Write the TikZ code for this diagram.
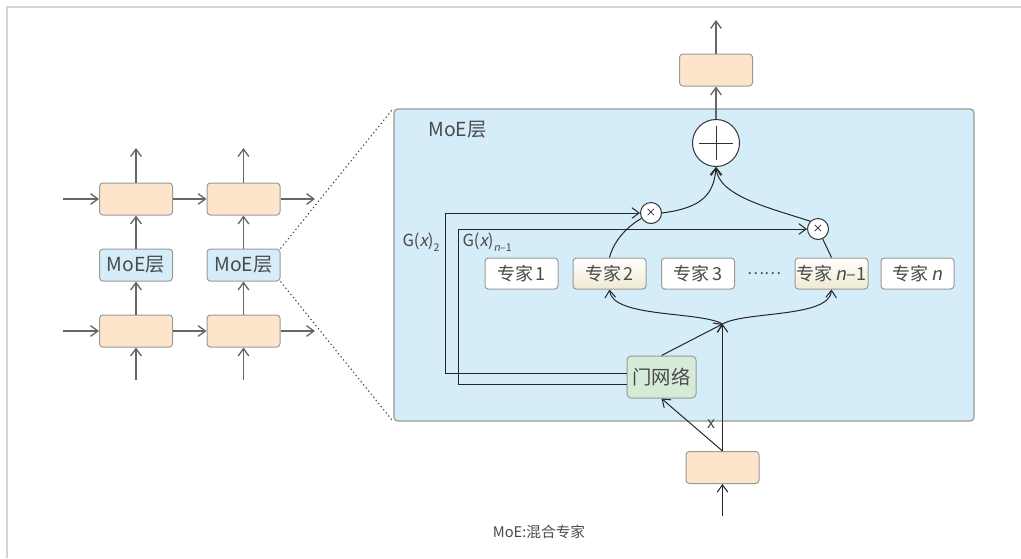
\documentclass[tikz,border=0pt]{standalone}
\usepackage{fontspec}
\setmainfont{Noto Sans CJK SC}[AutoFakeSlant=0.2]
\usetikzlibrary{arrows.meta}

\definecolor{boxorange}{HTML}{FDE5CB}
\definecolor{moeblue}{HTML}{D5ECF9}
\definecolor{gategreen}{HTML}{D6EAD8}
\definecolor{expbeige}{HTML}{F0E9D2}
\definecolor{edgegray}{HTML}{9A9A9A}
\definecolor{txtgray}{HTML}{4A4A4A}
\definecolor{framegray}{HTML}{D4D4D4}

\tikzset{every picture/.style={line width=0.75pt},
  barb/.tip={Straight Barb[length=5.5pt,width=8pt]},
  blk/.style={draw=edgegray, fill=boxorange, rounded corners=2.5pt, minimum width=54.75pt, minimum height=24pt, inner sep=0pt},
  moesmall/.style={blk, fill=moeblue, font=\fontsize{14.5}{16}\selectfont, text=txtgray},
  expert/.style={draw=edgegray, fill=white, rounded corners=2.5pt, minimum width=54.75pt, minimum height=23.25pt, inner sep=0pt, font=\fontsize{13.5}{15}\selectfont, text=txtgray},
  chosen/.style={expert, top color=white, bottom color=expbeige},
  mult/.style={circle, draw=black!80, fill=white, minimum size=15.75pt, inner sep=0pt, font=\fontsize{8}{8}\selectfont},
  sumnode/.style={circle, draw=black!80, fill=white, minimum size=35.25pt, inner sep=0pt},
  gatebox/.style={draw=edgegray, fill=gategreen, rounded corners=3pt, minimum width=51.75pt, minimum height=31.5pt, inner sep=0pt, font=\fontsize{14.5}{16}\selectfont, text=txtgray},
  lbl/.style={text=txtgray, inner sep=0pt},
  grayarrow/.style={draw=black!60, line width=1pt, -barb},
  darkarrow/.style={draw=black!85, line width=0.75pt, -barb},
  darkline/.style={draw=black!85, line width=0.75pt}
}

\begin{document}
\begin{tikzpicture}[x=0.75pt,y=0.75pt,yscale=-1,xscale=1]
	\useasboundingbox (0,0) rectangle (1021,558);

	%Frame
	\draw [framegray, line width=1.5]  (7,558) -- (7,6.5) -- (1021,6.5) ;

	%Stacked layers on the left
	\node (top1) [blk] at (136,199) {};
	\node (top2) [blk] at (243.5,199) {};
	\node (moe1) [moesmall] at (136,265) {MoE层};
	\node (moe2) [moesmall] at (243.5,265) {MoE层};
	\node (bot1) [blk] at (136,331) {};
	\node (bot2) [blk] at (243.5,331) {};

	\coordinate (inA) at (63,199);
	\coordinate (inB) at (63,331);
	\coordinate (outA) at (315,199);
	\coordinate (outB) at (315,331);
	\coordinate (upA) at (136,148);
	\coordinate (upB) at (243.5,148);
	\coordinate (srcA) at (136,380);
	\coordinate (srcB) at (243.5,380);

	\draw [grayarrow] (inA) -- (top1);
	\draw [grayarrow] (top1) -- (top2);
	\draw [grayarrow] (top2) -- (outA);
	\draw [grayarrow] (inB) -- (bot1);
	\draw [grayarrow] (bot1) -- (bot2);
	\draw [grayarrow] (bot2) -- (outB);
	\draw [grayarrow] (srcA) -- (bot1);
	\draw [grayarrow] (srcB) -- (bot2);
	\draw [grayarrow] (bot1) -- (moe1);
	\draw [grayarrow] (bot2) -- (moe2);
	\draw [grayarrow] (moe1) -- (top1);
	\draw [grayarrow] (moe2) -- (top2);
	\draw [grayarrow] (top1) -- (upA);
	\draw [grayarrow] (top2) -- (upB);

	%Expanded MoE layer
	\node (moebox) [draw=edgegray, fill=moeblue, line width=1, rounded corners=3pt, minimum width=435pt, minimum height=234pt, inner sep=0pt] at (684,265) {};
	\draw [black!75, dash pattern={on 1pt off 2pt}]  (moe2.north east) -- (moebox.north west) ;
	\draw [black!75, dash pattern={on 1pt off 2pt}]  (moe2.south east) -- (moebox.south west) ;

	% Text Node
	\node (title) [lbl, anchor=west, font=\fontsize{14.5}{16}\selectfont] at (428,130) {MoE层};

	\node (plus) [sumnode] at (716,143) {};
	\draw [black!80, line width=0.6]  ([xshift=-12.5pt]plus.center) -- ([xshift=12.5pt]plus.center) ;
	\draw [black!80, line width=0.6]  ([yshift=-12.5pt]plus.center) -- ([yshift=12.5pt]plus.center) ;

	\node (out) [blk] at (716,70) {};
	\coordinate (outend) at (716,20);
	\draw [grayarrow] (plus) -- (out);
	\draw [grayarrow] (out) -- (outend);

	\node (mult1) [mult] at (651,213) {×};
	\node (mult2) [mult] at (818,229) {×};

	%Experts
	\node (exp1) [expert] at (521.5,273.5) {专家\,1};
	\node (exp2) [chosen] at (609.5,273.5) {专家\,2};
	\node (exp3) [expert] at (698,273.5) {专家\,3};
	\node (dots) [lbl, font=\fontsize{12}{15}\selectfont] at (764,274) {……};
	\node (expn1) [chosen] at (831.5,273.5) {专家\,\textit{n}–1};
	\node (expn) [expert] at (917.5,273.5) {专家\,\textit{n}};

	\node (gate) [gatebox] at (661.5,377) {门网络};
	\node (input) [blk] at (722.5,467.5) {};
	\coordinate (inend) at (722.5,516);
	\coordinate (split) at (722.5,324);

	%Input and gate
	\draw [darkarrow] (inend) -- (input);
	\draw [darkarrow] (input.north) -- (split);
	\draw [darkarrow] (input.north) -- (gate.south);
	\draw [darkarrow] (gate.north) -- (split);
	\node (xlbl) [lbl, font=\fontsize{12}{14}\selectfont] at (711,424) {x};

	%Routing to chosen experts
	\draw [darkarrow] (split) .. controls (700,311) and (612,318) .. (exp2.south) ;
	\draw [darkarrow] (split) .. controls (745,311) and (830,318) .. (expn1.south) ;

	%Gate weights
	\draw [darkarrow] ([yshift=-3pt]gate.west) -| (445,213) -- (mult1) ;
	\draw [darkarrow] ([yshift=5.25pt]gate.west) -| (458,229) -- (mult2) ;
	\node (g2) [lbl, anchor=west, font=\fontsize{12.5}{14}\selectfont] at (402,242) {G(\textit{x})\raisebox{-0.6ex}{\fontsize{8}{8}\selectfont 2}};
	\node (gn) [lbl, anchor=west, font=\fontsize{12.5}{14}\selectfont] at (462,242) {G(\textit{x})\raisebox{-0.6ex}{\fontsize{8}{8}\selectfont\textit{n}–1}};

	%Weighted outputs
	\draw [darkline] (exp2.north) .. controls (614,240) and (628,226) .. (mult1) ;
	\draw [darkline] (expn1.north) -- (mult2) ;
	\draw [darkarrow] (mult1.east) .. controls (700,208) and (714,196) .. (plus.south) ;
	\draw [darkarrow] (mult2.north west) .. controls (770,208) and (718,196) .. (plus.south) ;

	% Text Node
	\node (caption) [lbl, font=\fontsize{11}{13}\selectfont] at (539,532) {MoE:混合专家};

\end{tikzpicture}
\end{document}
